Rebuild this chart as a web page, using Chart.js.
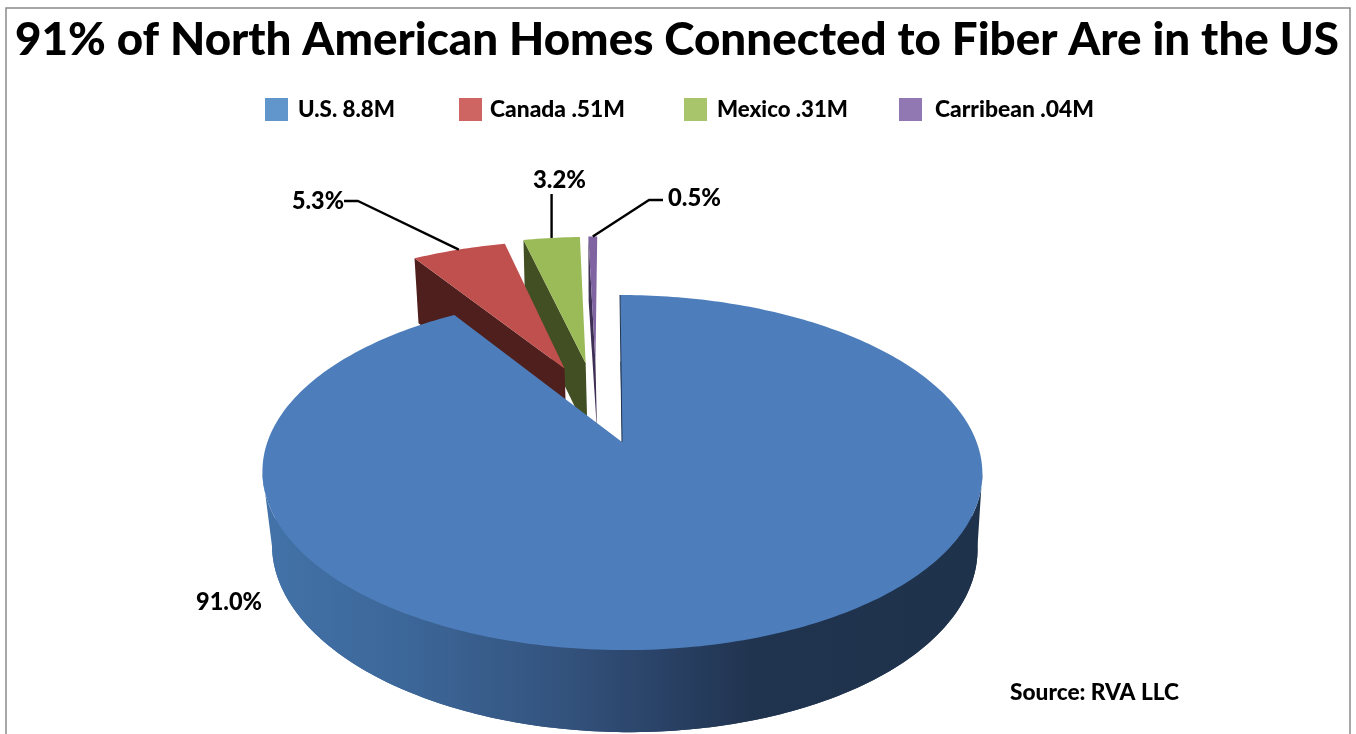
<!DOCTYPE html>
<html>
<head>
<meta charset="utf-8">
<title>Homes Connected to Fiber</title>
<script src="https://cdn.jsdelivr.net/npm/chart.js@4"></script>
<style>
  html, body { margin: 0; padding: 0; background: #fff; overflow: hidden; }
  canvas { display: block; }
</style>
</head>
<body>
<canvas id="chart" width="1356" height="734"></canvas>
<script>
// Chart content
const chartTitle = '91% of North American Homes Connected to Fiber Are in the US';
const regionLabels = ['U.S. 8.8M', 'Canada .51M', 'Mexico .31M', 'Carribean .04M'];
const sharePercent = [91.0, 5.3, 3.2, 0.5];
const sourceNote = 'Source: RVA LLC';

// Slice styling
const faceColors = ['#4d7ebb', '#c0504d', '#9bbb59', '#8064a2'];
const wallColors = ['#21344f', '#4f1f1d', '#414f22', '#3e2f55'];
const keyColors = ['#6096cb', '#cf6563', '#a9c56b', '#9278b3'];

// How far each small slice is pulled out of the pie, in pie radii
const pullOut = [[0, 0], [-0.172, 0.461], [-0.108, 0.496], [-0.078, 0.5]];

// Perspective of the tilted disc
const FONT = 'Lato, "Open Sans", sans-serif';
const RX = 354.6, RY = 172.3, PERSPECTIVE = 0.172;
const TOP_LAYER = { x0: 622, y0: 442, kx: 1, ky: 1, shear: 0.0136 };
const BASE_LAYER = { x0: 624, y0: 515, kx: 0.98, ky: 1.0436, shear: 0.024 };

function project(layer, u, v) {
  const s = 1 / (1 + PERSPECTIVE * v);
  const y = layer.y0 - RY * layer.ky * v * s;
  const x = layer.x0 + RX * layer.kx * u * s + layer.shear * (y - layer.y0);
  return [x, y];
}

// Point on a slice at canvas angle a and radius r (unit disc), after pull-out
function slicePoint(layer, index, a, r) {
  const [du, dv] = pullOut[index];
  return project(layer, r * Math.cos(a) + du, -r * Math.sin(a) + dv);
}

function traceWedge(ctx, layer, index, start, end) {
  const steps = Math.max(2, Math.ceil((end - start) / (Math.PI / 180)));
  ctx.beginPath();
  ctx.moveTo(...slicePoint(layer, index, start, 0));
  for (let i = 0; i <= steps; i++) {
    ctx.lineTo(...slicePoint(layer, index, start + (end - start) * i / steps, 1));
  }
  ctx.closePath();
}

function rimGradient(ctx) {
  const g = ctx.createLinearGradient(270, 0, 980, 0);
  g.addColorStop(0, '#4272a8');
  g.addColorStop(0.2, '#3c6698');
  g.addColorStop(0.4, '#34547f');
  g.addColorStop(0.55, '#2a4267');
  g.addColorStop(0.68, '#21344f');
  g.addColorStop(1, '#1f324c');
  return g;
}

// Outer side of the disc, between the widest points of the two rims
function drawMainRim(ctx) {
  ctx.fillStyle = rimGradient(ctx);
  ctx.beginPath();
  const steps = 200, from = Math.PI + 0.17, to = 2 * Math.PI - 0.17;
  for (let i = 0; i <= steps; i++) {
    const t = from + (to - from) * i / steps;
    ctx.lineTo(...project(TOP_LAYER, Math.cos(t), Math.sin(t)));
  }
  for (let i = steps; i >= 0; i--) {
    const t = from + (to - from) * i / steps;
    ctx.lineTo(...project(BASE_LAYER, Math.cos(t), Math.sin(t)));
  }
  ctx.closePath();
  ctx.fill();
}

function drawCutWall(ctx, index, angle) {
  const a = slicePoint(TOP_LAYER, index, angle, 1);
  const b = slicePoint(TOP_LAYER, index, angle, 0);
  const c = slicePoint(BASE_LAYER, index, angle, 0);
  const d = slicePoint(BASE_LAYER, index, angle, 1);
  ctx.fillStyle = wallColors[index];
  ctx.beginPath();
  ctx.moveTo(...a); ctx.lineTo(...b); ctx.lineTo(...c); ctx.lineTo(...d);
  ctx.closePath();
  ctx.fill();
}

function fitText(ctx, text, x0, x1, baseline, size) {
  ctx.save();
  ctx.font = '900 ' + size + 'px ' + FONT;
  ctx.textAlign = 'left';
  ctx.textBaseline = 'alphabetic';
  ctx.fillStyle = '#000';
  const w = ctx.measureText(text).width;
  ctx.translate(x0, baseline);
  ctx.scale((x1 - x0) / w, 1);
  ctx.fillText(text, 0, 0);
  ctx.restore();
}

function leader(ctx, points) {
  ctx.save();
  ctx.strokeStyle = '#000';
  ctx.lineWidth = 2.4;
  ctx.lineJoin = 'round';
  ctx.beginPath();
  points.forEach((p, i) => i ? ctx.lineTo(p[0], p[1]) : ctx.moveTo(p[0], p[1]));
  ctx.stroke();
  ctx.restore();
}

// Draws the arcs laid out by the pie controller as a tilted, exploded 3D disc
const tiltedPie = {
  id: 'tiltedPie',
  beforeDatasetDraw(chart, args) {
    const ctx = chart.ctx;
    const arcs = args.meta.data;
    ctx.save();
    // Back slices first, the large slice last so its face overlaps them
    for (let i = arcs.length - 1; i >= 1; i--) {
      drawCutWall(ctx, i, arcs[i].startAngle);
      ctx.fillStyle = faceColors[i];
      traceWedge(ctx, TOP_LAYER, i, arcs[i].startAngle, arcs[i].endAngle);
      ctx.fill();
    }
    const main = arcs[0];
    ctx.fillStyle = rimGradient(ctx);
    traceWedge(ctx, BASE_LAYER, 0, main.startAngle, main.endAngle);
    ctx.fill();
    drawMainRim(ctx);
    ctx.fillStyle = faceColors[0];
    traceWedge(ctx, TOP_LAYER, 0, main.startAngle, main.endAngle);
    ctx.fill();
    ctx.strokeStyle = wallColors[0];
    ctx.lineWidth = 1;
    ctx.beginPath();
    ctx.moveTo(...slicePoint(TOP_LAYER, 0, main.startAngle, 1));
    ctx.lineTo(...slicePoint(TOP_LAYER, 0, main.startAngle, 0));
    ctx.stroke();
    ctx.restore();
    return false;
  },
  afterDraw(chart) {
    const ctx = chart.ctx;
    const arcs = chart.getDatasetMeta(0).data;
    const mid = i => (arcs[i].startAngle + arcs[i].endAngle) / 2;

    // Frame, open along the bottom
    ctx.save();
    ctx.strokeStyle = '#8a8a8a';
    ctx.lineWidth = 1.5;
    ctx.beginPath();
    ctx.moveTo(6, 734); ctx.lineTo(6, 8); ctx.lineTo(1350, 8); ctx.lineTo(1350, 734);
    ctx.stroke();
    ctx.restore();

    fitText(ctx, chartTitle, 15, 1339, 55, 46);

    // Legend row
    const keyX = [265, 459, 684, 899];
    const keyTextX = [[298, 395], [490, 625], [717, 848], [935, 1094]];
    regionLabels.forEach((label, i) => {
      ctx.fillStyle = keyColors[i];
      ctx.fillRect(keyX[i], 98, 23, 23);
      fitText(ctx, label, keyTextX[i][0], keyTextX[i][1], 117, 23);
    });

    // Share labels with their leader lines
    const pct = i => sharePercent[i].toFixed(1) + '%';
    const greenTip = slicePoint(TOP_LAYER, 2, mid(2), 1);
    leader(ctx, [[344, 201], [358, 201], slicePoint(TOP_LAYER, 1, mid(1), 1)]);
    leader(ctx, [[greenTip[0], 194], greenTip]);
    leader(ctx, [[663, 200], [649, 200], slicePoint(TOP_LAYER, 3, mid(3), 1)]);
    fitText(ctx, pct(1), 292, 344, 209, 24);
    fitText(ctx, pct(2), 533, 586, 188, 24);
    fitText(ctx, pct(3), 668, 721, 206, 24);
    fitText(ctx, pct(0), 196, 262, 610, 24);

    fitText(ctx, sourceNote, 1010, 1179, 700, 23);
  }
};

new Chart(document.getElementById('chart'), {
  type: 'pie',
  data: {
    labels: regionLabels,
    datasets: [{ data: sharePercent, backgroundColor: faceColors, borderWidth: 0 }]
  },
  options: {
    responsive: false,
    animation: false,
    rotation: 0,
    plugins: { legend: { display: false }, title: { display: false }, tooltip: { enabled: false } }
  },
  plugins: [tiltedPie]
});
</script>
</body>
</html>
